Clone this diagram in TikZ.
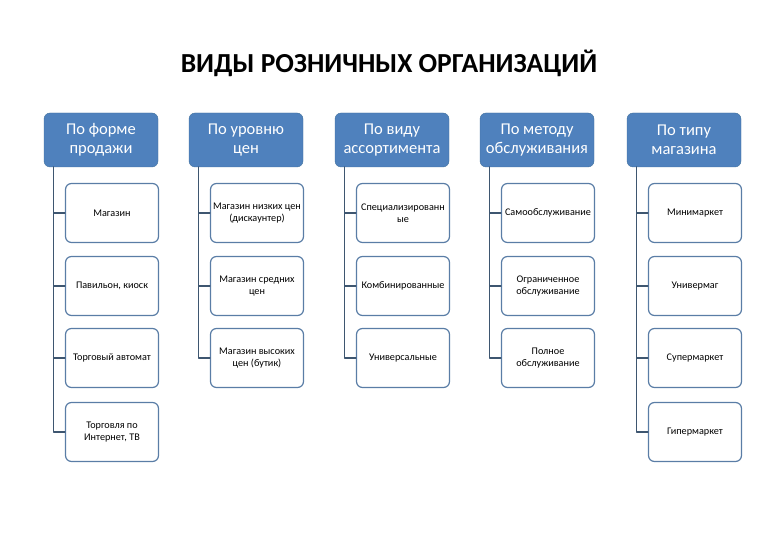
\documentclass[tikz,border=0pt]{standalone}
\usepackage{fontspec}
\setmainfont{Carlito}
\definecolor{hdrblue}{HTML}{4F81BD}
\definecolor{hdrline}{HTML}{41719C}
\definecolor{boxline}{HTML}{5A7DA6}
\definecolor{connline}{HTML}{3E5670}
\begin{document}
\begin{tikzpicture}[x=1pt,y=-1pt,line join=round,line cap=round,
	hdr/.style={draw=hdrline,fill=hdrblue,rounded corners=6pt,minimum width=114pt,minimum height=54pt,
		align=center,text=white,font=\fontsize{16.5}{19}\selectfont,inner sep=1pt},
	item/.style={draw=boxline,line width=1.2pt,fill=white,rounded corners=6pt,minimum width=93pt,minimum height=59pt,
		align=center,font=\fontsize{10.2}{11.5}\selectfont,inner sep=1pt},
	conn/.style={draw=connline,line width=1.2pt}]
	\useasboundingbox (0,0) rectangle (780,540);
	\node[font=\bfseries\fontsize{27.5}{32}\selectfont] (title) at (389,63) {ВИДЫ РОЗНИЧНЫХ ОРГАНИЗАЦИЙ};
	% headers
	\foreach \i/\x/\t in {1/101/{По форме\\продажи}, 2/246/{По уровню\\цен}, 3/392/{По виду\\ассортимента},
		4/537/{По методу\\обслуживания}, 5/684/{По типу\\магазина}}
		\node[hdr] (h\i) at (\x,140) {\t};
	% items
	\foreach \n/\x/\y/\t in {
		11/112/213/{Магазин}, 12/112/286/{Павильон, киоск}, 13/112/358/{Торговый автомат}, 14/112/432/{Торговля по\\Интернет, ТВ},
		21/257/213/{Магазин низких цен\\(дискаунтер)}, 22/257/286/{Магазин средних\\цен}, 23/257/358/{Магазин высоких\\цен (бутик)},
		31/403/213/{Специализированн\\ые}, 32/403/286/{Комбинированные}, 33/403/358/{Универсальные},
		41/548/213/{Самообслуживание}, 42/548/286/{Ограниченное\\обслуживание}, 43/548/358/{Полное\\обслуживание},
		51/695/213/{Минимаркет}, 52/695/286/{Универмаг}, 53/695/358/{Супермаркет}, 54/695/432/{Гипермаркет}}
		\node[item] (c\n) at (\x,\y) {\t};
	% connectors
	\foreach \i/\m in {1/4, 2/3, 3/3, 4/3, 5/4}
		\foreach \j in {1,...,\m}
			\draw[conn] ([xshift=10pt]h\i.south west) |- (c\i\j.west);
\end{tikzpicture}
\end{document}
